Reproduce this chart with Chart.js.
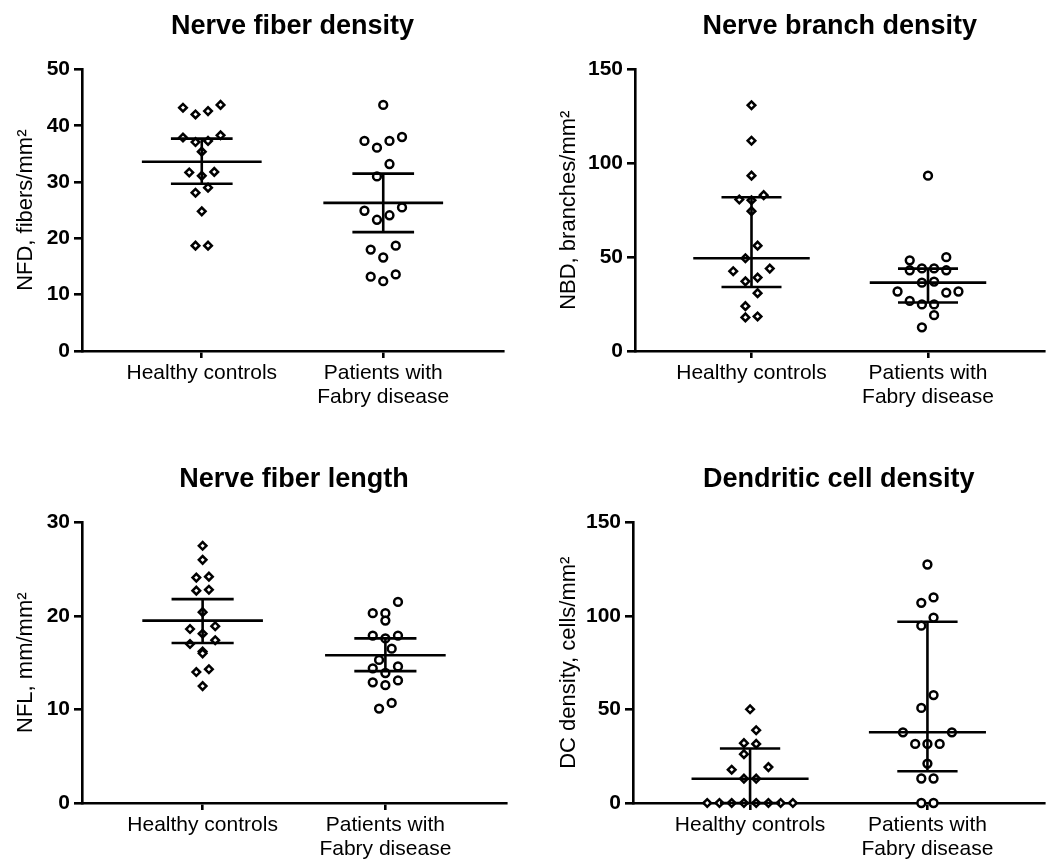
<!DOCTYPE html>
<html>
<head>
<meta charset="utf-8">
<script src="https://cdn.jsdelivr.net/npm/chart.js"></script>
<style>
  body { margin: 0; background: #fff; width: 1051px; height: 860px; position: relative; overflow: hidden; }
  .panel { position: absolute; }
</style>
</head>
<body>
<div class="panel" style="left:0;top:0;width:525px;height:408px"><canvas id="nfd"></canvas></div>
<div class="panel" style="left:525px;top:0;width:526px;height:408px"><canvas id="nbd"></canvas></div>
<div class="panel" style="left:0;top:453px;width:525px;height:407px"><canvas id="nfl"></canvas></div>
<div class="panel" style="left:525px;top:453px;width:526px;height:407px"><canvas id="dc"></canvas></div>
<script>
// groups on the x axis
const groupLabels = ["Healthy controls", ["Patients with", "Fabry disease"]];

// Nerve fiber density
const nfdHealthy = [43.2, 42.0, 42.6, 43.7, 38.3, 37.9, 37.3, 37.1, 35.4, 31.7, 31.8, 31.1, 29.0, 28.1, 24.8, 18.7, 18.7];
const nfdFabry = [43.7, 37.3, 36.1, 37.3, 38.0, 33.2, 31.0, 24.9, 23.3, 24.1, 25.5, 18.0, 16.6, 18.7, 13.6, 12.4, 13.2];
const nfdCenter = [33.6, 26.3];
const nfdUpper = [37.7, 31.5];
const nfdLower = [29.7, 21.1];

// Nerve branch density
const nbdHealthy = [130.9, 112.0, 93.4, 83.0, 80.7, 80.3, 74.5, 56.1, 49.4, 43.9, 42.5, 39.1, 37.1, 30.8, 23.9, 17.9, 18.4];
const nbdFabry = [93.4, 50.0, 48.3, 44.0, 43.0, 43.0, 44.0, 37.0, 36.4, 31.1, 31.7, 31.7, 24.8, 24.8, 26.7, 19.1, 12.6];
const nbdCenter = [49.4, 36.4];
const nbdUpper = [81.9, 43.9];
const nbdLower = [34.1, 25.8];

// Nerve fiber length
const nflHealthy = [27.5, 26.0, 24.2, 24.1, 22.7, 22.8, 20.4, 18.9, 18.6, 18.1, 17.0, 17.4, 16.0, 16.2, 14.3, 14.0, 12.5];
const nflFabry = [21.5, 20.3, 20.3, 19.5, 17.9, 17.6, 17.9, 16.5, 15.3, 14.4, 14.6, 13.9, 12.9, 12.6, 13.1, 10.1, 10.7];
const nflCenter = [19.5, 15.8];
const nflUpper = [21.8, 17.6];
const nflLower = [17.1, 14.1];

// Dendritic cell density
const dcHealthy = [50.1, 38.9, 32.0, 31.6, 26.1, 19.2, 17.8, 13.0, 13.0, 0, 0, 0, 0, 0, 0, 0, 0];
const dcFabry = [127.5, 107.0, 109.9, 99.1, 94.8, 57.7, 50.8, 37.8, 37.8, 31.6, 31.6, 31.6, 21.1, 13.1, 13.1, 0, 0];
const dcCenter = [13.0, 37.8];
const dcUpper = [29.1, 96.9];
const dcLower = [0, 17.0];

const FONT = "'Liberation Sans', Arial, Helvetica, sans-serif";

// binned dot plot: values close together share a row, lowest in the middle
function swarm(values, center, binSize, step) {
  const sorted = values.slice().sort((a, b) => b - a);
  const bins = [];
  let cur = null;
  sorted.forEach(v => {
    if (!cur || cur.start - v > binSize) {
      cur = { start: v, pts: [] };
      bins.push(cur);
    }
    cur.pts.push(v);
  });
  const out = [];
  bins.forEach(b => {
    const pts = b.pts.slice().sort((a, c) => a - c);
    const n = pts.length;
    // slots ordered from the middle outwards, left first
    const slots = [];
    for (let k = 0; k < n; k++) slots.push(k - (n - 1) / 2);
    slots.sort((a, c) => Math.abs(a) - Math.abs(c) || a - c);
    pts.forEach((v, k) => out.push({ x: center + slots[k] * step, y: v }));
  });
  return out;
}

function seg(x1, y1, x2, y2) {
  return {
    type: "line",
    data: [{ x: x1, y: y1 }, { x: x2, y: y2 }],
    borderColor: "#000",
    borderWidth: 2.6,
    pointRadius: 0,
    fill: false,
    clip: false,
    order: 1
  };
}

function makePanel(id, p) {
  const datasets = [];
  const groups = [p.healthy, p.fabry];
  const bin = 13 * p.yMax / 282;
  groups.forEach((vals, i) => {
    const c = i + 1;
    datasets.push({
      type: "scatter",
      data: swarm(vals, c, bin, 0.069),
      pointStyle: i === 0 ? "rectRot" : "circle",
      pointRadius: i === 0 ? 3.8 : 3.9,
      pointBorderWidth: 2.5,
      pointBackgroundColor: "#fff",
      pointBorderColor: "#000",
      clip: false,
      order: 2
    });
    datasets.push(seg(c - 0.33, p.center[i], c + 0.33, p.center[i]));
    datasets.push(seg(c, p.lower[i], c, p.upper[i]));
    datasets.push(seg(c - 0.17, p.upper[i], c + 0.17, p.upper[i]));
    datasets.push(seg(c - 0.17, p.lower[i], c + 0.17, p.lower[i]));
  });

  return new Chart(document.getElementById(id), {
    type: "scatter",
    data: { datasets: datasets },
    options: {
      responsive: true,
      maintainAspectRatio: false,
      animation: false,
      events: [],
      layout: { padding: { left: 0, right: p.padRight, top: 0, bottom: 0 } },
      plugins: {
        legend: { display: false },
        tooltip: { enabled: false },
        title: {
          display: true,
          text: p.title,
          fullSize: false,
          color: "#000",
          font: { family: FONT, size: 27, weight: "bold" },
          padding: { top: 10, bottom: 27 }
        }
      },
      scales: {
        x: {
          type: "linear",
          min: 0.34,
          max: 2.66,
          afterBuildTicks: s => { s.ticks = [{ value: 1 }, { value: 2 }]; },
          afterFit: s => { s.height = 57; },
          ticks: {
            autoSkip: false,
            maxRotation: 0,
            padding: 3,
            color: "#000",
            font: { family: FONT, size: 21, lineHeight: 1.15 },
            callback: (v, idx) => groupLabels[idx]
          },
          grid: { drawOnChartArea: false, color: "#000", lineWidth: 2.6, tickLength: 7 },
          border: { display: true, color: "#000", width: 2.6 }
        },
        y: {
          min: 0,
          max: p.yMax,
          afterFit: s => { s.width = p.axisWidth; },
          ticks: {
            stepSize: p.yStep,
            padding: 4,
            color: "#000",
            font: { family: FONT, size: 21, weight: "bold" }
          },
          grid: { drawOnChartArea: false, color: "#000", lineWidth: 2.6, tickLength: 8 },
          border: { display: true, color: "#000", width: 2.6 },
          title: {
            display: true,
            text: p.yLabel,
            color: "#000",
            font: { family: FONT, size: 22 },
            padding: { top: p.labelPad, bottom: 0 }
          }
        }
      }
    }
  });
}

makePanel("nfd", {
  title: "Nerve fiber density", yLabel: "NFD, fibers/mm²",
  healthy: nfdHealthy, fabry: nfdFabry, center: nfdCenter, upper: nfdUpper, lower: nfdLower,
  yMax: 50, yStep: 10, axisWidth: 82, padRight: 22, labelPad: 13
});
makePanel("nbd", {
  title: "Nerve branch density", yLabel: "NBD, branches/mm²",
  healthy: nbdHealthy, fabry: nbdFabry, center: nbdCenter, upper: nbdUpper, lower: nbdLower,
  yMax: 150, yStep: 50, axisWidth: 110, padRight: 0, labelPad: 31
});
makePanel("nfl", {
  title: "Nerve fiber length", yLabel: "NFL, mm/mm²",
  healthy: nflHealthy, fabry: nflFabry, center: nflCenter, upper: nflUpper, lower: nflLower,
  yMax: 30, yStep: 10, axisWidth: 82, padRight: 19, labelPad: 13
});
makePanel("dc", {
  title: "Dendritic cell density", yLabel: "DC density, cells/mm²",
  healthy: dcHealthy, fabry: dcFabry, center: dcCenter, upper: dcUpper, lower: dcLower,
  yMax: 150, yStep: 50, axisWidth: 108, padRight: 0, labelPad: 31
});
</script>
</body>
</html>
